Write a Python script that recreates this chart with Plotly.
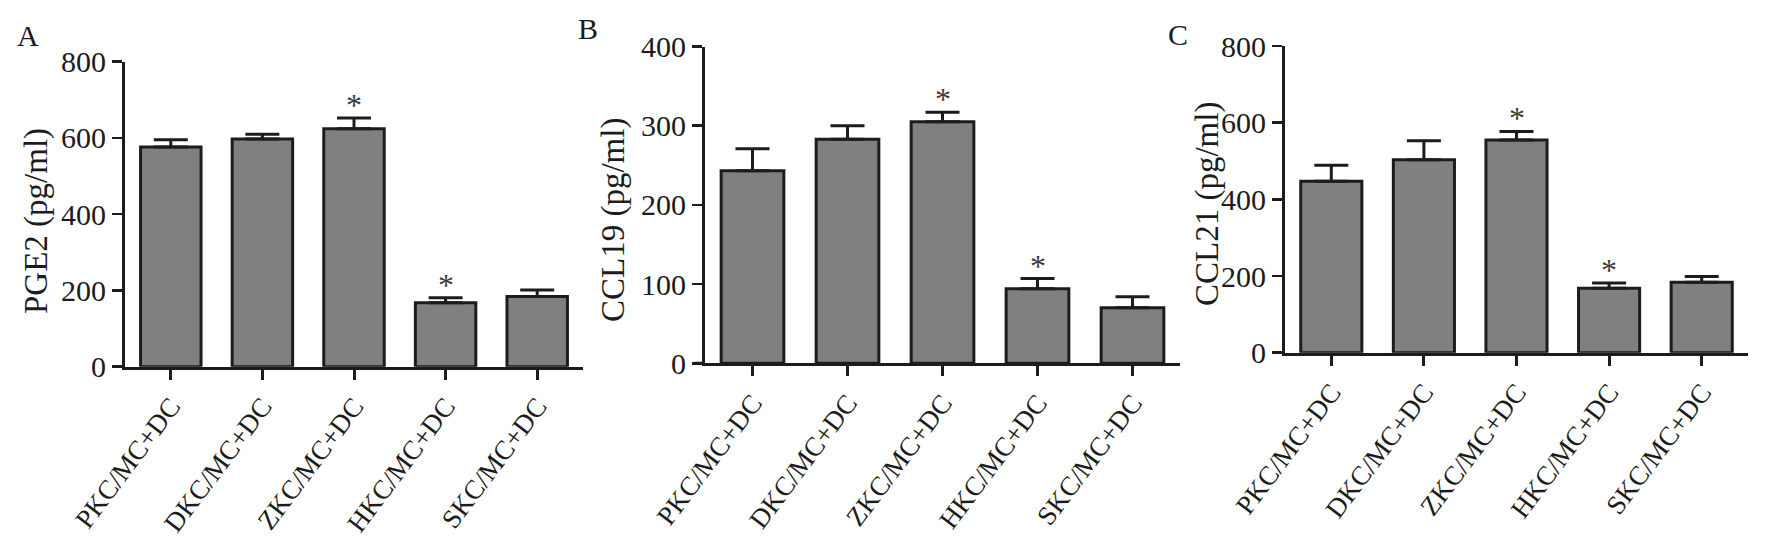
import plotly.graph_objects as go

# ---------------- data ----------------
categories = ["PKC/MC+DC", "DKC/MC+DC", "ZKC/MC+DC", "HKC/MC+DC", "SKC/MC+DC"]

pge2_mean = [576, 597, 624, 168, 184]
pge2_err = [19, 13, 28, 13, 17]

ccl19_mean = [243, 283, 305, 94, 70]
ccl19_err = [28, 17, 12, 13, 14]

ccl21_mean = [447, 503, 555, 168, 184]
ccl21_err = [42, 50, 22, 14, 15]

significant = [False, False, True, True, False]

panel_letters = ["A", "B", "C"]
y_titles = ["PGE2 (pg/ml)", "CCL19 (pg/ml)", "CCL21 (pg/ml)"]
y_max = [800, 400, 800]
y_step = [200, 100, 200]

means = [pge2_mean, ccl19_mean, ccl21_mean]
errs = [pge2_err, ccl19_err, ccl21_err]

# ---------------- layout geometry (pixels) ----------------
W, H = 1767, 547
# left (y-axis x), right end, bottom (y=0), top (y=max)
boxes = [
    (125, 583, 366.7, 61.7),
    (705, 1180, 363.3, 46.5),
    (1285, 1748, 352.7, 46.0),
]
title_x = [37, 613, 1207]
title_yc = [221, 220, 204]
letter_pos = [(28, 35), (588, 29), (1178, 34)]

FONT = "Liberation Serif, Times New Roman, serif"
INK = "#1c1c1c"
BAR = "#808080"


def px_x(v):
    return v / W


def px_y(v):
    return 1 - v / H


fig = go.Figure()
annotations = []
shapes = []

for i in range(3):
    xa = "x" if i == 0 else f"x{i+1}"
    ya = "y" if i == 0 else f"y{i+1}"
    fig.add_trace(go.Bar(
        x=categories,
        y=means[i],
        width=0.66,
        marker=dict(color=BAR, line=dict(color=INK, width=3)),
        error_y=dict(type="data", symmetric=False, array=errs[i],
                     arrayminus=[0] * len(errs[i]),
                     color=INK, thickness=3, width=17),
        xaxis=xa, yaxis=ya, showlegend=False,
        hoverinfo="skip",
    ))
    x0, x1, yb, yt = boxes[i]
    axis_x = dict(
        domain=[px_x(x0), px_x(x1)],
        anchor=ya,
        range=[-0.5, 4.5],
        automargin=False,
        showline=True, linewidth=3, linecolor=INK,
        ticks="outside", ticklen=10, tickwidth=3, tickcolor=INK,
        tickangle=-53,
        tickfont=dict(family=FONT, size=27, color=INK),
        showgrid=False, zeroline=False,
        fixedrange=True,
    )
    axis_y = dict(
        domain=[px_y(yb), px_y(yt)],
        anchor=xa,
        range=[0, y_max[i]],
        automargin=False,
        tickmode="linear", tick0=0, dtick=y_step[i],
        showline=True, linewidth=3, linecolor=INK,
        ticks="outside", ticklen=10, tickwidth=2.5, tickcolor=INK,
        tickfont=dict(family=FONT, size=30, color=INK),
        showgrid=False, zeroline=False,
        fixedrange=True,
    )
    key = "" if i == 0 else str(i + 1)
    fig.update_layout(**{f"xaxis{key}": axis_x, f"yaxis{key}": axis_y})

    # x-axis overhang left of the y-axis
    shapes.append(dict(type="line", xref="paper", yref=ya,
                       x0=px_x(x0 - 10), x1=px_x(x0), y0=0, y1=0,
                       line=dict(color=INK, width=3)))

    # y-axis title
    annotations.append(dict(
        text=y_titles[i], xref="paper", yref="paper",
        x=px_x(title_x[i]), y=px_y(title_yc[i]),
        xanchor="center", yanchor="middle", textangle=-90,
        showarrow=False, font=dict(family=FONT, size=33, color=INK),
    ))
    # panel letter
    lx, ly = letter_pos[i]
    annotations.append(dict(
        text=panel_letters[i], xref="paper", yref="paper",
        x=px_x(lx), y=px_y(ly), xanchor="center", yanchor="middle",
        showarrow=False, font=dict(family=FONT, size=30, color=INK),
    ))
    # significance asterisks
    for c, m, e, s in zip(categories, means[i], errs[i], significant):
        if s:
            annotations.append(dict(
                text="*", xref=xa, yref=ya, x=c, y=m + e,
                xanchor="center", yanchor="middle", yshift=13,
                showarrow=False, font=dict(family=FONT, size=32, color="#3a3a3a"),
            ))

fig.update_layout(
    width=W, height=H,
    margin=dict(l=0, r=0, t=0, b=0, autoexpand=False),
    paper_bgcolor="white", plot_bgcolor="white",
    annotations=annotations, shapes=shapes,
)

fig.write_html("out.html",
               config={"displayModeBar": False, "staticPlot": True},
               post_script="document.body.style.margin='0px';document.body.style.overflow='hidden';")
